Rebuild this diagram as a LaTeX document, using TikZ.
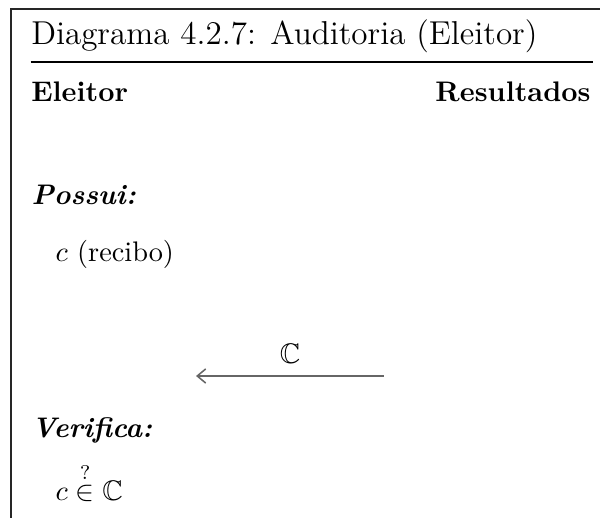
\documentclass[tikz,border=0pt]{standalone}
\usepackage{amssymb}
\usetikzlibrary{arrows.meta}
\begin{document}
\begin{tikzpicture}[x=0.3534pt,y=-0.3534pt,
  txt/.style={inner sep=0pt, anchor=base west},
  head/.style={txt, font=\bfseries},
  part/.style={txt, font=\bfseries\itshape},
  frameline/.style={line width=0.5pt, black!85},
  msg/.style={line width=0.55pt, black!60, arrows={Straight Barb[length=3pt,width=5pt]-}}]
  \useasboundingbox (0,0) rectangle (600,518);
  % panel edges
  \coordinate (fb) at (11,518);
  \coordinate (fc) at (11,9);
  \coordinate (fr) at (600,9);
  \draw[frameline] (fb) -- (fc) -- (fr);
  % title and rule
  \node[txt, font=\fontsize{11.7}{14}\selectfont] (title) at (30.7,45) {Diagrama 4.2.7: Auditoria (Eleitor)};
  \coordinate (rl) at (30.7,62);
  \coordinate (rr) at (593,62);
  \draw[line width=0.4pt] (rl) -- (rr);
  % column headings
  \node[head] (voter) at (30.7,101.7) {Eleitor};
  \node[head, anchor=base east] (results) at (591,101.7) {Resultados};
  % holdings
  \node[part] (holds) at (31,205) {Possui:};
  \node[txt] (receipt) at (55,262) {$c$ (recibo)};
  % message
  \coordinate (ms) at (384,376);
  \coordinate (me) at (196,376);
  \draw[msg] (me) -- node[above=4pt, inner sep=0pt, black] (set) {$\mathbb{C}$} (ms);
  % check
  \node[part] (checks) at (31,437) {Verifica:};
  \node[txt] (test) at (55,500) {$c \stackrel{?}{\in} \mathbb{C}$};
\end{tikzpicture}
\end{document}
